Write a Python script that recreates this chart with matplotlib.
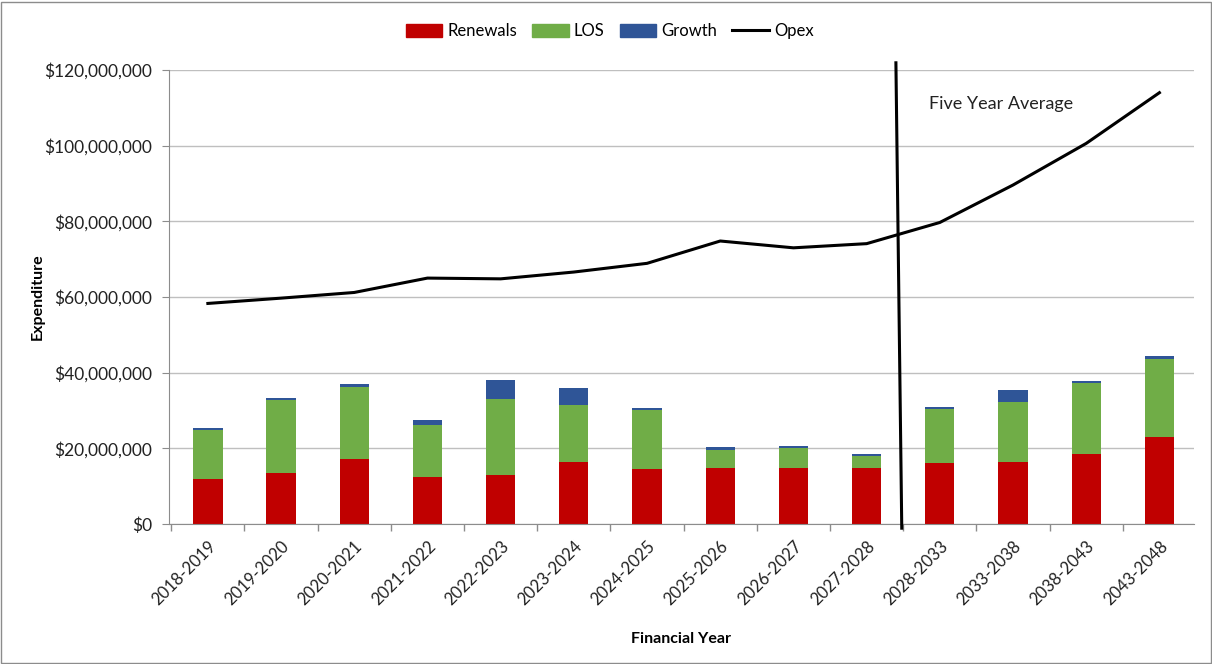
import matplotlib
matplotlib.use("Agg")
import matplotlib.pyplot as plt
import numpy as np
from matplotlib.patches import Rectangle
from matplotlib.lines import Line2D
from matplotlib.ticker import FuncFormatter, FixedLocator

plt.rcParams["font.family"] = ["Lato", "DejaVu Sans"]

years = ["2018-2019", "2019-2020", "2020-2021", "2021-2022", "2022-2023", "2023-2024",
         "2024-2025", "2025-2026", "2026-2027", "2027-2028", "2028-2033", "2033-2038",
         "2038-2043", "2043-2048"]
# values in $ millions
renewals = [12.0, 13.5, 17.2, 12.5, 13.0, 16.4, 14.5, 14.7, 14.7, 14.7, 16.1, 16.4, 18.6, 23.0]
los = [12.9, 19.3, 18.9, 13.8, 20.0, 15.1, 15.6, 4.9, 5.3, 3.4, 14.2, 15.8, 18.6, 20.7]
growth = [0.5, 0.4, 0.8, 1.1, 5.1, 4.4, 0.5, 0.7, 0.5, 0.4, 0.5, 3.2, 0.6, 0.8]
opex = [58.3, 59.7, 61.2, 65.0, 64.8, 66.6, 68.9, 74.8, 73.0, 74.1, 79.7, 89.6, 100.6, 114.0]

RED = "#C00000"
GREEN = "#70AD47"
BLUE = "#2F5597"

fig = plt.figure(figsize=(12.12, 6.64), dpi=100)
ax = fig.add_axes([0.1395, 0.2108, 0.8455, 0.6838])

x = np.arange(len(years))
m = 1e6
r = np.array(renewals) * m
l = np.array(los) * m
g = np.array(growth) * m
w = 0.40
ax.bar(x, r, w, color=RED, label="Renewals", zorder=2)
ax.bar(x, l, w, bottom=r, color=GREEN, label="LOS", zorder=2)
ax.bar(x, g, w, bottom=r + l, color=BLUE, label="Growth", zorder=2)
ax.plot(x, np.array(opex) * m, color="black", lw=2.2, label="Opex", zorder=3)

# divider between annual and five-year-average periods
ax.plot([9.40, 9.48], [121.9 * m, -1.1 * m], color="black", lw=2.2, clip_on=False, zorder=4)
ax.text(9.85, 111.0 * m, "Five Year Average", fontsize=13, va="center", ha="left", color="#222222")

ax.set_xlim(-0.53, 13.47)
ax.set_ylim(0, 120 * m)
ax.yaxis.set_major_locator(FixedLocator(np.arange(0, 121, 20) * m))
ax.yaxis.set_major_formatter(FuncFormatter(lambda v, p: f"${v:,.0f}"))
ax.grid(axis="y", color="#BFBFBF", lw=1, zorder=0)

ax.set_xticks(x)
ax.set_xticklabels(years, rotation=45, ha="right", rotation_mode="anchor", fontsize=12, color="#222222")
ax.xaxis.set_minor_locator(FixedLocator(np.arange(-0.5, 14, 1)))
ax.tick_params(axis="x", which="major", length=0, pad=10)
ax.tick_params(axis="x", which="minor", length=5, color="#8C8C8C", width=1)
ax.tick_params(axis="y", length=5, color="#8C8C8C", labelsize=12.5, labelcolor="#222222", pad=7)

for s in ["top", "right"]:
    ax.spines[s].set_visible(False)
for s in ["left", "bottom"]:
    ax.spines[s].set_color("#8C8C8C")

ax.set_ylabel("Expenditure", fontsize=11.5, fontweight="bold", labelpad=16)
ax.set_xlabel("Financial Year", fontsize=11.5, fontweight="bold", labelpad=6)
ax.xaxis.set_label_coords(0.5, -0.238)
ax.yaxis.set_label_coords(-0.121, 0.5)

handles = [Rectangle((0, 0), 1, 1, color=RED), Rectangle((0, 0), 1, 1, color=GREEN),
           Rectangle((0, 0), 1, 1, color=BLUE), Line2D([], [], color="black", lw=2.2)]
fig.legend(handles, ["Renewals", "LOS", "Growth", "Opex"], loc="center", ncol=4,
           bbox_to_anchor=(0.503, 0.953), frameon=False, fontsize=12,
           handlelength=2.2, handleheight=0.9, handletextpad=0.3, columnspacing=0.9)

fig.add_artist(Rectangle((0.001, 0.001), 0.998, 0.996, transform=fig.transFigure,
                         fill=False, edgecolor="#8C8C8C", lw=1))

fig.savefig("out.png", dpi=100)
